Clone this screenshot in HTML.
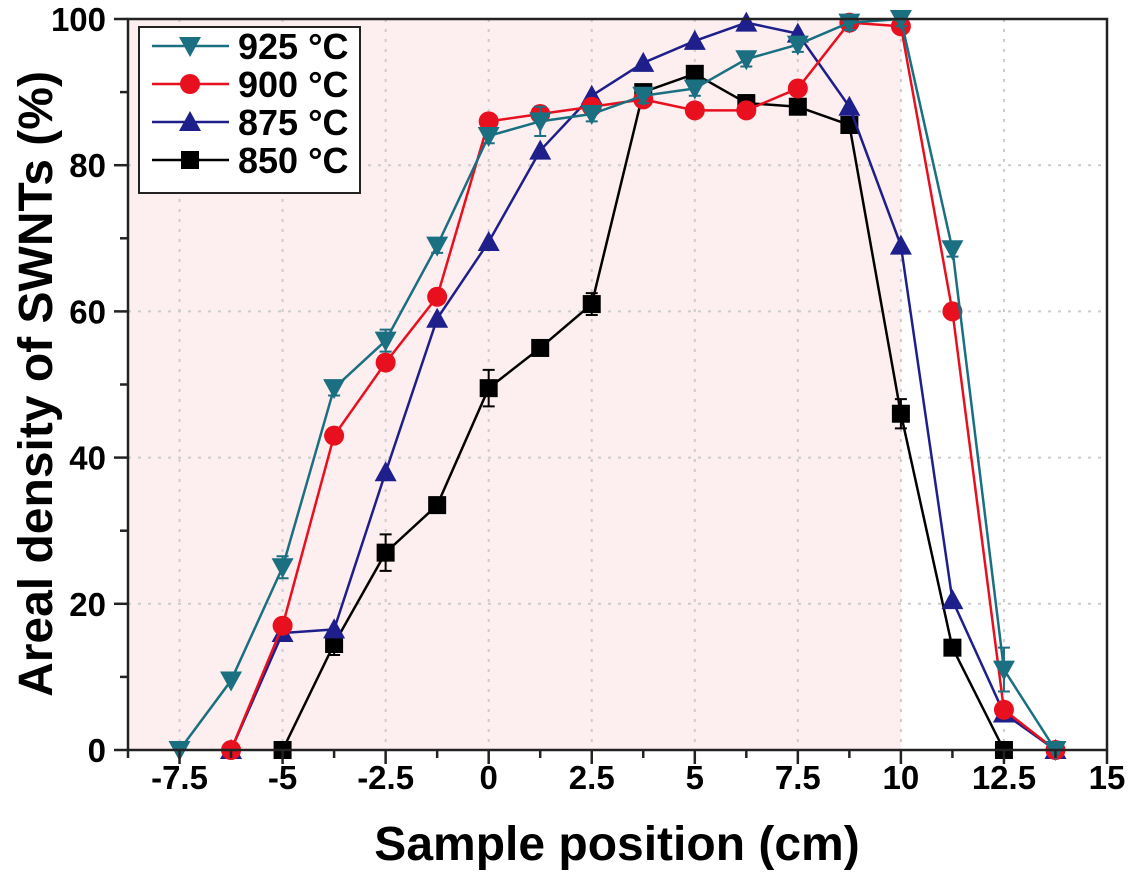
<!DOCTYPE html>
<html><head><meta charset="utf-8"><style>
body{margin:0;background:#fff;font-family:"Liberation Sans",Arial,sans-serif}
svg text{font-family:"Liberation Sans",Arial,sans-serif;font-weight:bold}
</style></head><body>
<svg id="chart" width="1129" height="873" xmlns="http://www.w3.org/2000/svg">
<g id="grid"></g>
<g id="series"></g>
<g id="axes"></g>
<text x="617" y="860" font-size="48" text-anchor="middle">Sample position (cm)</text>
<text transform="translate(52,384) rotate(-90)" font-size="48" text-anchor="middle">Areal density of SWNTs (%)</text>
<g>
<rect x="139" y="27" width="221" height="166" fill="#fff" stroke="#222" stroke-width="2"/>
<g id="legend-items"></g>
</g>
</svg>
<script>
const xPositions=[-7.5,-6.25,-5,-3.75,-2.5,-1.25,0,1.25,2.5,3.75,5,6.25,7.5,8.75,10,11.25,12.5,13.75];
const s925=[0,9.5,25,49.5,56,69,84,86,87,89.5,90.5,94.5,96.5,99.5,100,68.5,11,0];
const s900=[null,0,17,43,53,62,86,87,88,89,87.5,87.5,90.5,99.5,99,60,5.5,0];
const s875=[null,0,16,16.5,38,59,69.5,82,89.5,94,97,99.5,98,88,69,20.5,5,0];
const s850=[null,null,0,14.5,27,33.5,49.5,55,61,90,92.5,88.5,88,85.5,46,14,0,null];
const err850=[0,0,0,1.5,2.5,1,2.5,1,1.5,1,1,1,1,1,2,1,0,0];
const err925=[0,0,1.5,1,1.5,1,1,2,1,1,1,1,1,1,1,1,3,0];
const xTicks=[-7.5,-5,-2.5,0,2.5,5,7.5,10,12.5,15];
const xTickLabels=["-7.5","-5","-2.5","0","2.5","5","7.5","10","12.5","15"];
const yTicks=[0,20,40,60,80,100];
const seriesNames=["925 °C","900 °C","875 °C","850 °C"];
const NS="http://www.w3.org/2000/svg";
const X0=128,X1=1107,Y0=750,Y1=19,XMIN=-8.75,XMAX=15;
const sx=v=>X0+(v-XMIN)/(XMAX-XMIN)*(X1-X0);
const sy=v=>Y0-v/100*(Y0-Y1);
function mk(t,a,p){const e=document.createElementNS(NS,t);for(const k in a)e.setAttribute(k,a[k]);p.appendChild(e);return e;}
const grid=document.getElementById('grid'),axes=document.getElementById('axes'),ser=document.getElementById('series');
let r=mk('rect',{x:X0,y:Y1,width:sx(10)-X0,height:Y0-Y1,fill:'#fdeef0'},grid);


xTicks.forEach(v=>{if(v<15){let l=mk('line',{x1:sx(v),x2:sx(v),y1:Y1,y2:Y0,stroke:'#ccc','stroke-width':2,'stroke-dasharray':'3 7'},grid);

}});
yTicks.forEach(v=>{if(v>0&&v<100){let l=mk('line',{x1:X0,x2:X1,y1:sy(v),y2:sy(v),stroke:'#ccc','stroke-width':2,'stroke-dasharray':'3 7'},grid);

}});
let fr=mk('rect',{x:X0,y:Y1,width:X1-X0,height:Y0-Y1,fill:'none',stroke:'#222','stroke-width':2.5},axes);


for(let v=-8.75;v<=15.01;v+=1.25){const major=xTicks.some(t=>Math.abs(t-v)<0.01);mk('line',{x1:sx(v),x2:sx(v),y1:Y0,y2:Y0+(major?14:8),stroke:'#222','stroke-width':2.5},axes);}
xTicks.forEach((v,i)=>{let t=mk('text',{x:sx(v),y:789,'font-size':33,'text-anchor':'middle'},axes);t.textContent=xTickLabels[i];

});
for(let v=0;v<=100;v+=10){mk('line',{x1:X0,x2:X0-(v%20==0?14:8),y1:sy(v),y2:sy(v),stroke:'#222','stroke-width':2.5},axes);}
yTicks.forEach(v=>{let t=mk('text',{x:106,y:sy(v)+12,'font-size':33,'text-anchor':'end'},axes);t.textContent=v;

});
function marker(type,cx,cy,c,p){
 if(type=='tri-down')return mk('polygon',{points:`${cx-11},${cy-9} ${cx+11},${cy-9} ${cx},${cy+11}`,fill:c},p);
 if(type=='circle')return mk('circle',{cx:cx,cy:cy,r:10,fill:c},p);
 if(type=='tri-up')return mk('polygon',{points:`${cx-11},${cy+9} ${cx+11},${cy+9} ${cx},${cy-11}`,fill:c},p);
 return mk('rect',{x:cx-9,y:cy-9,width:18,height:18,fill:c},p);}
const defs=[[s850,'#000','square',err850,'series-850'],[s875,'#1f1f8c','tri-up',null,'series-875'],[s900,'#e8101e','circle',null,'series-900'],[s925,'#1a6f80','tri-down',err925,'series-925']];
defs.forEach(([d,c,m,e,n])=>{
 const g=mk('g',{},ser);
 
 
 const pts=[];d.forEach((v,i)=>{if(v!==null)pts.push([sx(xPositions[i]),sy(v),i]);});
 mk('polyline',{points:pts.map(p=>p[0]+','+p[1]).join(' '),fill:'none',stroke:c,'stroke-width':2.5},g);
 pts.forEach(([x,y,i])=>{
  if(e&&e[i]>0){const eb=mk('path',{d:`M${x},${sy(d[i]+e[i])}V${sy(d[i]-e[i])}M${x-6},${sy(d[i]+e[i])}h12M${x-6},${sy(d[i]-e[i])}h12`,stroke:c,'stroke-width':2,fill:'none'},g);
   
   }
  const mm=marker(m,x,y,c,g);
  
  });
});
const li=document.getElementById('legend-items');
[['#1a6f80','tri-down'],['#e8101e','circle'],['#1f1f8c','tri-up'],['#000','square']].forEach(([c,m],i)=>{
 const y=46+i*38;const g=mk('g',{},li);
 
 
 mk('line',{x1:152,x2:229,y1:y,y2:y,stroke:c,'stroke-width':2.5},g);
 marker(m,190,y,c,g);
 const t=mk('text',{x:238,y:y+13,'font-size':36},g);t.textContent=seriesNames[i];});
</script>
</body></html>
